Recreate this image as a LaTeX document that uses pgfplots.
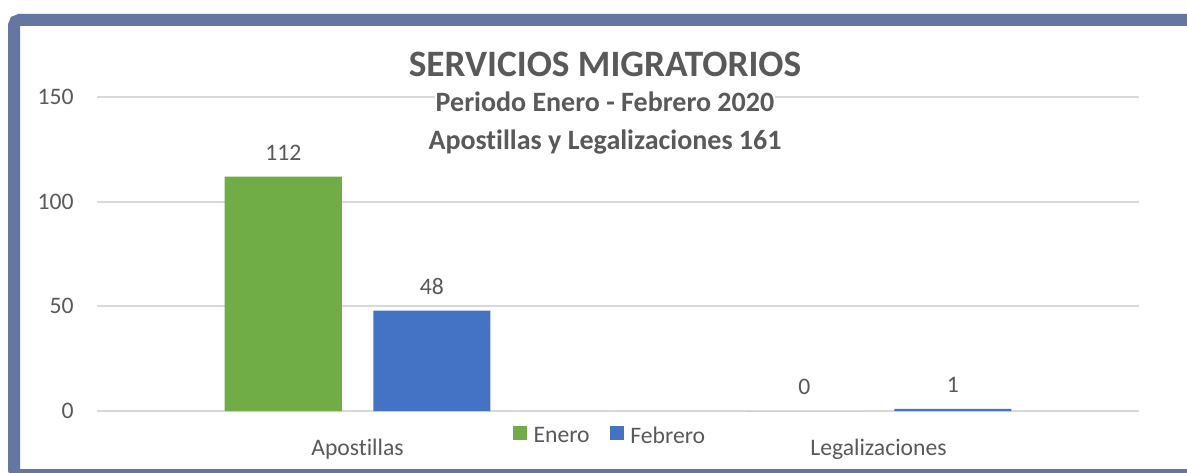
\documentclass[border=0pt]{standalone}
\usepackage{fontspec}
\setmainfont{Carlito}[Ligatures=NoCommon]
\usepackage{pgfplots}
\pgfplotsset{compat=1.18}
\definecolor{frameblue}{HTML}{6377A0}
\definecolor{egreen}{HTML}{70AD47}
\definecolor{fblue}{HTML}{4472C4}
\definecolor{txtgray}{HTML}{595959}
\definecolor{gridgray}{HTML}{D9D9D9}
\newcommand\tickfont{\fontsize{17.75pt}{21pt}\selectfont}
\begin{document}
\begin{tikzpicture}
\clip (0,0) rectangle (890.25pt,354pt);
\fill[white] (0,0) rectangle (890.25pt,354pt);
\draw[frameblue, line width=9pt, rounded corners=4pt] (10.5pt,-2.25pt) rectangle (903.75pt,339pt);
\begin{axis}[
  at={(72.75pt,45.75pt)}, anchor=south west,
  scale only axis, width=781.5pt, height=235.5pt,
  xmin=-0.5, xmax=1.5, ymin=0, ymax=150,
  clip=false,
  axis line style={draw=none}, tick style={draw=none},
  /pgf/number format/assume math mode=true,
  ytick={0,50,100,150}, ymajorgrids,
  grid style={line width=1.5pt, color=gridgray},
  xtick={0,1}, xticklabels={Apostillas,Legalizaciones},
  yticklabel style={anchor=east, inner sep=0pt, xshift=-17.25pt, font=\tickfont, text=txtgray},
  xticklabel style={anchor=base, inner sep=0pt, yshift=-29.25pt, font=\tickfont, text=txtgray},
  ybar, bar width=87.75pt,
  nodes near coords,
  every node near coord/.append style={anchor=south, inner sep=0pt, yshift=12pt, font=\tickfont, text=txtgray},
  legend columns=2,
  legend style={at={(0.5,0)}, anchor=center, xshift=-6.75pt, yshift=-18.75pt,
    draw=none, fill=none, inner sep=0pt, font=\tickfont, text=txtgray,
    nodes={inner sep=0pt},
    /tikz/every odd column/.append style={column sep=5pt},
    /tikz/every even column/.append style={column sep=15pt}},
  legend image code/.code={\fill[#1] (0pt,-3pt) rectangle (10.5pt,7.5pt);},
]
\addplot[fill=egreen, draw=none, bar shift=-55.69pt] coordinates {(0,112) (1,0)};
\addplot[fill=fblue, draw=none, bar shift=55.69pt] coordinates {(0,48) (1,1)};
\legend{Enero,Febrero}
\end{axis}
\node[anchor=base, inner sep=0pt, text=txtgray, font=\fontsize{27.95pt}{32pt}\selectfont\bfseries] at (453.75pt,296.25pt) {SERVICIOS MIGRATORIOS};
\node[anchor=base, inner sep=0.6pt, fill=white, text=txtgray, font=\fontsize{21pt}{25pt}\selectfont\bfseries] at (453.75pt,270pt) {Periodo Enero - Febrero 2020};
\node[anchor=base, inner sep=0.6pt, fill=white, text=txtgray, font=\fontsize{21pt}{25pt}\selectfont\bfseries] at (453.75pt,242.25pt) {Apostillas y Legalizaciones 161};
\end{tikzpicture}
\end{document}
